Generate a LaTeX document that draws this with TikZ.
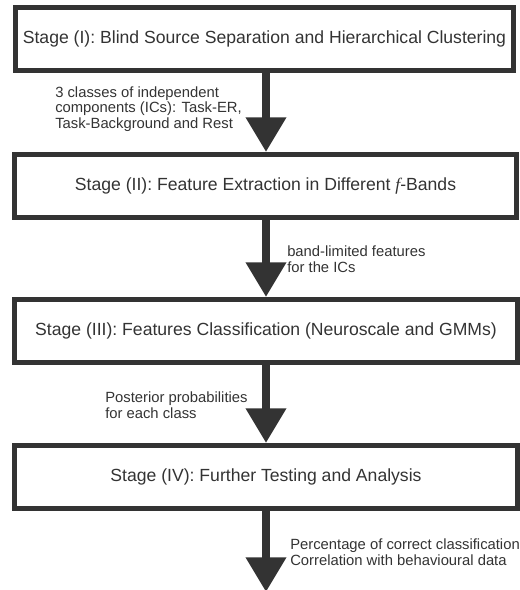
\documentclass[tikz,border=0pt]{standalone}
\usepackage{fontspec}
\setmainfont{Liberation Sans}
\newfontfamily\serifit{Liberation Serif}
\usetikzlibrary{arrows.meta,calc}
\definecolor{ink}{HTML}{333333}
\begin{document}
\begin{tikzpicture}[x=0.75pt,y=-0.75pt,
  stagebox/.style={draw=ink,line width=3.75pt,rectangle,inner sep=0pt,
    minimum height=47.25pt,text=ink,font=\fontsize{13.2}{15}\selectfont},
  flowarrow/.style={draw=ink,line width=6pt,-{Triangle[width=29pt,length=26pt]}},
  note/.style={anchor=west,align=left,inner sep=0pt,text=ink,font=\fontsize{11.1}{11.8}\selectfont}]
\useasboundingbox (0,0) rectangle (520,590);
\node[stagebox,minimum width=373.5pt] (b1) at (264.5,39) {Stage (I): Blind Source Separation and Hierarchical Clustering};
\node[stagebox,minimum width=376.5pt] (b2) at (265.5,186) {Stage (II): Feature Extraction in Different {\serifit\itshape f}-Bands};
\node[stagebox,minimum width=377.25pt] (b3) at (266,331) {Stage (III): Features Classification (Neuroscale and GMMs)};
\node[stagebox,minimum width=377.25pt] (b4) at (266,477) {Stage (IV): Further Testing and Analysis};
\coordinate (ax) at (266,0);
\coordinate (endpt) at (266,592);
\draw[flowarrow] (b1.south -| ax) -- (b2.north -| ax);
\draw[flowarrow] (b2.south -| ax) -- (b3.north -| ax);
\draw[flowarrow] (b3.south -| ax) -- (b4.north -| ax);
\draw[flowarrow] (b4.south -| ax) -- (endpt);
\node[note] (l1) at (55,109) {3 classes of independent\\components (ICs): Task-ER,\\Task-Background and Rest};
\node[note] (l2) at (287,259.5) {band-limited features\\for the ICs};
\node[note] (l3) at (105,405) {Posterior probabilities\\for each class};
\node[note] (l4) at (290,552) {Percentage of correct classification\\Correlation with behavioural data};
\end{tikzpicture}
\end{document}
